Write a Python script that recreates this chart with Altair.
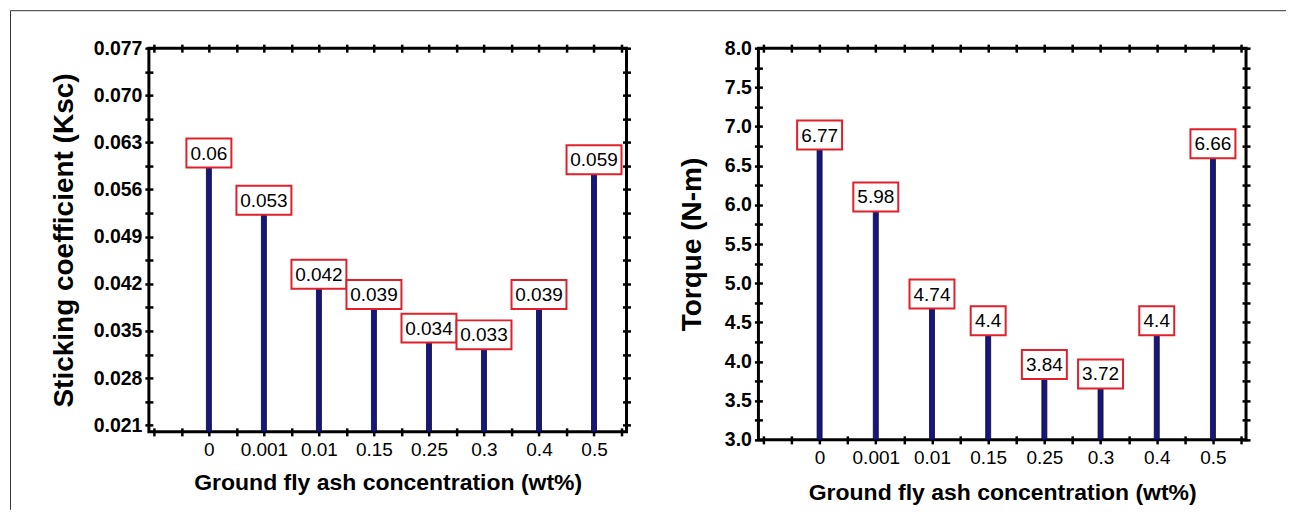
import json
import altair as alt
import pandas as pd

# ---------------- data ----------------
categories = ["0", "0.001", "0.01", "0.15", "0.25", "0.3", "0.4", "0.5"]
sticking = [0.06, 0.053, 0.042, 0.039, 0.034, 0.033, 0.039, 0.059]
sticking_labels = ["0.06", "0.053", "0.042", "0.039", "0.034", "0.033", "0.039", "0.059"]
torque = [6.77, 5.98, 4.74, 4.4, 3.84, 3.72, 4.4, 6.66]
torque_labels = ["6.77", "5.98", "4.74", "4.4", "3.84", "3.72", "4.4", "6.66"]

x_ticks = [-1, -0.5, 0, 0.5, 1, 1.5, 2, 2.5, 3, 3.5, 4, 4.5, 5, 5.5, 6, 6.5, 7, 7.5]
sticking_major = [0.021, 0.028, 0.035, 0.042, 0.049, 0.056, 0.063, 0.070, 0.077]
sticking_minor = [0.0245, 0.0315, 0.0385, 0.0455, 0.0525, 0.0595, 0.0665, 0.0735]
torque_major = [3.0, 3.5, 4.0, 4.5, 5.0, 5.5, 6.0, 6.5, 7.0, 7.5, 8.0]
torque_minor = [3.25, 3.75, 4.25, 4.75, 5.25, 5.75, 6.25, 6.75, 7.25, 7.75]

x_title = "Ground fly ash concentration (wt%)"
FONT = "Liberation Sans"

tick_style = dict(
    tickSize=8, tickWidth=2.5, tickColor="black", offset=-4, domain=False,
    grid=False, labelOverlap=False, labelFlush=False,
)


def panel(values, labels, y_domain, major, minor, fmt, y_title, width, height,
          y_title_pad, x_title_pad, frame=False):
    df = pd.DataFrame({
        "idx": list(range(len(categories))),
        "cat": categories,
        "value": values,
        "label": labels,
    })
    xs = alt.Scale(domain=[-1, 7.5], nice=False, zero=False)
    ys = alt.Scale(domain=y_domain, nice=False, zero=False)
    y_vals = sorted(major + minor)
    cat_js = json.dumps(categories)
    major_js = json.dumps(major)

    x_bottom = alt.Axis(
        orient="bottom", values=x_ticks,
        labelExpr=f"(datum.value >= 0 && datum.value == floor(datum.value)) ? {cat_js}[datum.value] : ''",
        labelFont=FONT, labelFontSize=19, labelColor="black", labelPadding=5,
        title=x_title, titleFont=FONT, titleFontSize=23, titleFontWeight="bold",
        titleColor="black", titlePadding=x_title_pad, **tick_style)
    y_left = alt.Axis(
        orient="left", values=y_vals,
        labelExpr=f"indexof({major_js}, datum.value) >= 0 ? format(datum.value, '{fmt}') : ''",
        labelFont=FONT, labelFontSize=19.5, labelFontWeight="bold", labelColor="black",
        labelPadding=3,
        title=y_title, titleFont=FONT, titleFontSize=28, titleFontWeight="bold",
        titleColor="black", titlePadding=y_title_pad, **tick_style)
    x_top = alt.Axis(orient="top", values=x_ticks, labels=False, title=None, **tick_style)
    y_right = alt.Axis(orient="right", values=y_vals, labels=False, title=None, **tick_style)

    base = alt.Chart(df)
    bars = base.mark_bar(size=5, fill="#16167e", stroke="#06062e", strokeWidth=0.8).encode(
        x=alt.X("idx:Q", scale=xs, axis=x_bottom),
        y=alt.Y("value:Q", scale=ys, axis=y_left),
        y2=alt.datum(y_domain[0]),
    )
    boxes = base.transform_calculate(
        bw="length(datum.label) * 10 + 5"
    ).mark_bar(fill="white", stroke="#e0202a", strokeWidth=2, yOffset=-24, y2Offset=5).encode(
        x=alt.X("idx:Q", scale=xs, axis=None),
        y=alt.Y("value:Q", scale=ys, axis=None),
        y2=alt.Y2("value:Q"),
        size=alt.Size("bw:Q", scale=None, legend=None),
    )
    texts = base.mark_text(font=FONT, fontSize=19, color="black", baseline="middle", dy=-9).encode(
        x=alt.X("idx:Q", scale=xs, axis=x_top),
        y=alt.Y("value:Q", scale=ys, axis=y_right),
        text="label:N",
    )
    layers = [bars, boxes, texts]
    if frame:
        one = alt.Data(values=[{"k": 1}])
        vline = alt.Chart(one).mark_rule(color="#333333", strokeWidth=1).encode(
            x=alt.value(-138.5), y=alt.value(-37.5), y2=alt.value(462))
        hline = alt.Chart(one).mark_rule(color="#333333", strokeWidth=1).encode(
            x=alt.value(-138.5), x2=alt.value(1138), y=alt.value(-37.5))
        layers += [vline, hline]
    return alt.layer(*layers).resolve_axis(x="independent", y="independent").properties(
        width=width, height=height)


left = panel(sticking, sticking_labels, [0.020, 0.077], sticking_major, sticking_minor,
             ".3f", "Sticking coefficient (Ksc)", 478, 384, 15, 12, frame=True)
right = panel(torque, torque_labels, [3.0, 8.0], torque_major, torque_minor,
              ".1f", "Torque (N-m)", 488, 392, 18, 14)

chart = alt.hconcat(left, right, spacing=132, bounds="flush").properties(
    padding={"left": 0, "top": 0, "right": 2, "bottom": 2},
    background="white",
).configure_view(stroke="black", strokeWidth=3)

chart.save("out.html", embed_options={"renderer": "svg", "actions": False})
